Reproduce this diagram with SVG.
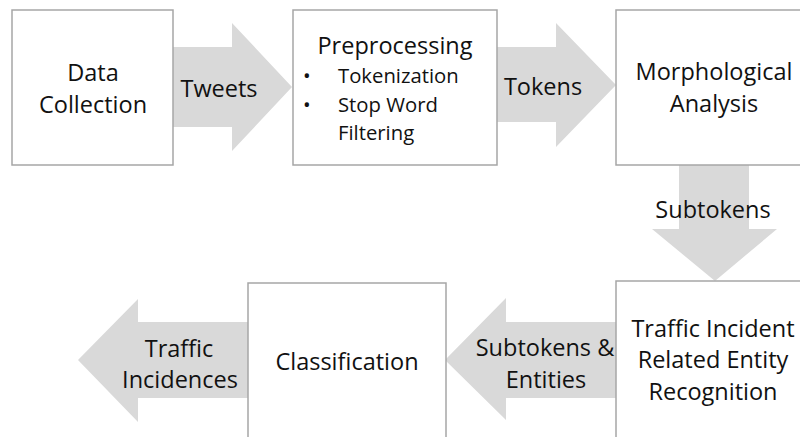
<svg xmlns="http://www.w3.org/2000/svg" width="800" height="437" viewBox="0 0 800 437">
  <style>
    .box { fill: #ffffff; stroke: #a6a6a6; stroke-width: 1.5; }
    .flow { fill: #d9d9d9; stroke: none; }
    text { font-family: "Open Sans", "Noto Sans", "DejaVu Sans", sans-serif; fill: #111111; }
    .lbl { font-size: 23.5px; text-anchor: middle; }
    .item { font-size: 20.3px; }
  </style>
  <rect width="800" height="437" fill="#ffffff"/>

  <!-- block arrows between the stages -->
  <g id="connectors">
    <g id="edge-tweets">
      <polygon class="flow" points="173,47 232,47 232,23 292,87 232,151 232,127 173,127"/>
      <text class="lbl" x="219" y="97">Tweets</text>
    </g>
    <g id="edge-tokens">
      <polygon class="flow" points="497,47 556,47 556,23 616,85 556,147 556,122 497,122"/>
      <text class="lbl" x="543" y="95">Tokens</text>
    </g>
    <g id="edge-subtokens">
      <polygon class="flow" points="679,165 749,165 749,229 777,229 715,281 652,229 679,229"/>
      <text class="lbl" x="713" y="218">Subtokens</text>
    </g>
    <g id="edge-entities">
      <polygon class="flow" points="616,322 506,322 506,298 445,360 506,420 506,398 616,398"/>
      <text class="lbl" x="545" y="356">Subtokens &amp;</text>
      <text class="lbl" x="546" y="388">Entities</text>
    </g>
    <g id="edge-incidences">
      <polygon class="flow" points="248,322 138,322 138,299 78,360 138,422 138,398 248,398"/>
      <text class="lbl" x="179" y="357">Traffic</text>
      <text class="lbl" x="180" y="388">Incidences</text>
    </g>
  </g>

  <!-- processing stages -->
  <g id="data-collection">
    <rect class="box" x="12" y="10" width="161" height="155"/>
    <text class="lbl" x="93" y="81">Data</text>
    <text class="lbl" x="93" y="113">Collection</text>
  </g>

  <g id="preprocessing">
    <rect class="box" x="293" y="10" width="204" height="155"/>
    <text class="lbl" x="395" y="54">Preprocessing</text>
    <text class="item" x="303" y="83">•</text>
    <text class="item" x="338" y="83">Tokenization</text>
    <text class="item" x="303" y="112">•</text>
    <text class="item" x="338" y="112">Stop Word</text>
    <text class="item" x="338" y="140">Filtering</text>
  </g>

  <g id="morphological-analysis">
    <rect class="box" x="616" y="10" width="200" height="155"/>
    <text class="lbl" x="714" y="80">Morphological</text>
    <text class="lbl" x="714" y="112">Analysis</text>
  </g>

  <g id="entity-recognition">
    <rect class="box" x="616" y="281" width="200" height="170"/>
    <text class="lbl" x="713" y="337">Traffic Incident</text>
    <text class="lbl" x="713" y="368">Related Entity</text>
    <text class="lbl" x="713" y="400">Recognition</text>
  </g>

  <g id="classification">
    <rect class="box" x="248" y="283" width="198" height="170"/>
    <text class="lbl" x="347" y="370">Classification</text>
  </g>
</svg>
